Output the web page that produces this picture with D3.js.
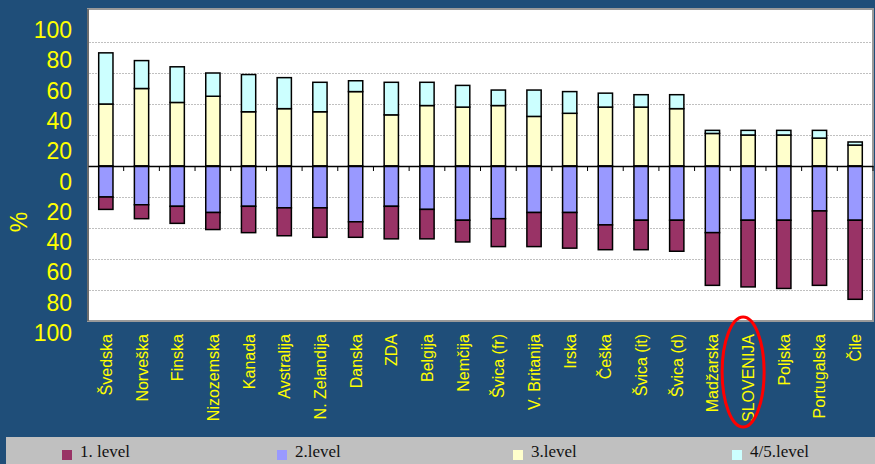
<!DOCTYPE html>
<html>
<head>
<meta charset="utf-8">
<script src="https://cdn.jsdelivr.net/npm/d3@7"></script>
<style>
  html, body { margin: 0; padding: 0; background: #1f4e79; }
  svg { display: block; }
</style>
</head>
<body>
<svg id="chart" width="875" height="464"></svg>
<script>
// Countries, ordered as in the chart
const countries = ["Švedska", "Norveška", "Finska", "Nizozemska", "Kanada", "Avstralija",
  "N. Zelandija", "Danska", "ZDA", "Belgija", "Nemčija", "Švica (fr)", "V. Britanija",
  "Irska", "Češka", "Švica (it)", "Švica (d)", "Madžarska", "SLOVENIJA", "Poljska",
  "Portugalska", "Čile"];

// Share of population (%) at each literacy level
const level1  = [8, 9, 11, 11, 17, 18, 19, 10, 21, 19, 14, 18, 22, 23, 16, 19, 20, 34, 43, 44, 48, 51];
const level2  = [20, 25, 26, 30, 26, 27, 27, 36, 26, 28, 35, 34, 30, 30, 38, 35, 35, 43, 35, 35, 29, 35];
const level3  = [40, 50, 41, 45, 35, 37, 35, 48, 33, 39, 38, 39, 32, 34, 38, 38, 37, 21, 20, 20, 18, 13.5];
const level45 = [33, 18, 23, 15, 24, 20, 19, 7, 21, 15, 14, 10, 17, 14, 9, 8, 9, 2, 3, 3, 5, 2];

const yTicks = [100, 80, 60, 40, 20, 0, -20, -40, -60, -80, -100];
const seriesNames = ["1. level", "2.level", "3.level", "4/5.level"];
const seriesColors = ["#993366", "#9999ff", "#ffffcc", "#ccffff"];
const highlighted = "SLOVENIJA";

const svg = d3.select("#chart");
const plot = { left: 88, right: 873, top: 9, bottom: 321 };

const x = d3.scaleBand().domain(countries)
  .range([plot.left, plot.right]).paddingInner(0.6).paddingOuter(0.3);
const y = d3.scaleLinear().domain([-100, 100]).range([321, 11]);
// tick labels sit on their own slightly offset ladder
const yLabel = d3.scaleLinear().domain([-100, 100]).range([341, 38]);

// plot area
svg.append("rect")
  .attr("x", plot.left).attr("y", plot.top)
  .attr("width", plot.right - plot.left).attr("height", plot.bottom - plot.top)
  .attr("fill", "#ffffff").attr("stroke", "#9a9a9a").attr("stroke-width", 2);
svg.append("line")
  .attr("x1", plot.left).attr("x2", plot.left)
  .attr("y1", plot.top).attr("y2", plot.bottom)
  .attr("stroke", "#404040").attr("stroke-width", 1);

// gridlines
svg.append("g").selectAll("line")
  .data(yTicks.filter(d => d !== 0 && Math.abs(d) !== 100))
  .join("line")
  .attr("x1", plot.left + 1).attr("x2", plot.right - 1)
  .attr("y1", d => y(d) + 0.5).attr("y2", d => y(d) + 0.5)
  .attr("stroke", "#c0c0c0").attr("stroke-width", 1)
  .attr("stroke-dasharray", "2,1");

// stacked bars: levels 3 and 4/5 above zero, levels 2 and 1 below
const rows = countries.map((c, i) => ({
  country: c, l3: level3[i], l45: level45[i], l2: -level2[i], l1: -level1[i]
}));
const keys = ["l3", "l45", "l2", "l1"];
const colorOf = { l1: seriesColors[0], l2: seriesColors[1], l3: seriesColors[2], l45: seriesColors[3] };
const stacked = d3.stack().keys(keys).offset(d3.stackOffsetDiverging)(rows);

svg.append("g").selectAll("g")
  .data(stacked)
  .join("g")
  .attr("fill", s => colorOf[s.key])
  .selectAll("rect")
  .data(s => s)
  .join("rect")
  .attr("x", d => x(d.data.country))
  .attr("width", x.bandwidth())
  .attr("y", d => y(Math.max(d[0], d[1])))
  .attr("height", d => Math.abs(y(d[0]) - y(d[1])))
  .attr("stroke", "#000").attr("stroke-width", 1.5);

// zero axis with small ticks between categories
const zeroAxis = d3.axisBottom(x).tickSize(0).tickFormat("");
svg.append("g").attr("transform", `translate(0,${y(0)})`).call(zeroAxis)
  .call(g => g.select(".domain").attr("stroke", "#000").attr("stroke-width", 1.5));
const step = x.step();
svg.append("g").selectAll("line")
  .data(d3.range(1, countries.length + 1))
  .join("line")
  .attr("x1", i => plot.left + i * step)
  .attr("x2", i => plot.left + i * step)
  .attr("y1", y(0)).attr("y2", y(0) + 5)
  .attr("stroke", "#000").attr("stroke-width", 1);

// y tick labels (shown unsigned)
svg.append("g").selectAll("text")
  .data(yTicks)
  .join("text")
  .attr("x", 72).attr("y", d => yLabel(d))
  .attr("text-anchor", "end")
  .attr("font-family", "Liberation Sans, Arial, sans-serif")
  .attr("font-size", 23).attr("fill", "#ffff00")
  .text(d => Math.abs(d));

svg.append("text")
  .attr("transform", "translate(27,222) rotate(-90)")
  .attr("text-anchor", "middle")
  .attr("font-family", "Liberation Sans, Arial, sans-serif")
  .attr("font-size", 23).attr("fill", "#ffff00")
  .text("%");

// category labels, rotated
svg.append("g").selectAll("text")
  .data(countries)
  .join("text")
  .attr("transform", d => `translate(${x(d) + x.bandwidth() / 2 + 6},334) rotate(-90)`)
  .attr("text-anchor", "end")
  .attr("font-family", "Liberation Sans, Arial, sans-serif")
  .attr("font-size", 16).attr("fill", "#ffff00")
  .text(d => d);

// highlight ring
svg.append("ellipse")
  .attr("cx", x(highlighted) + x.bandwidth() / 2 - 5)
  .attr("cy", 372).attr("rx", 21).attr("ry", 55)
  .attr("fill", "none").attr("stroke", "#ff0000").attr("stroke-width", 3);

// legend
svg.append("rect")
  .attr("x", 6).attr("y", 437).attr("width", 869).attr("height", 27)
  .attr("fill", "#c0c0c0");
const legendX = [62, 277, 513, 732];
const legend = svg.append("g").selectAll("g")
  .data(seriesNames)
  .join("g")
  .attr("transform", (d, i) => `translate(${legendX[i]},450)`);
legend.append("rect")
  .attr("width", 10).attr("height", 10)
  .attr("fill", (d, i) => seriesColors[i]);
legend.append("text")
  .attr("x", 18).attr("y", 7)
  .attr("font-family", "Liberation Serif, Times New Roman, serif")
  .attr("font-size", 17).attr("fill", "#111")
  .text(d => d);
</script>
</body>
</html>
